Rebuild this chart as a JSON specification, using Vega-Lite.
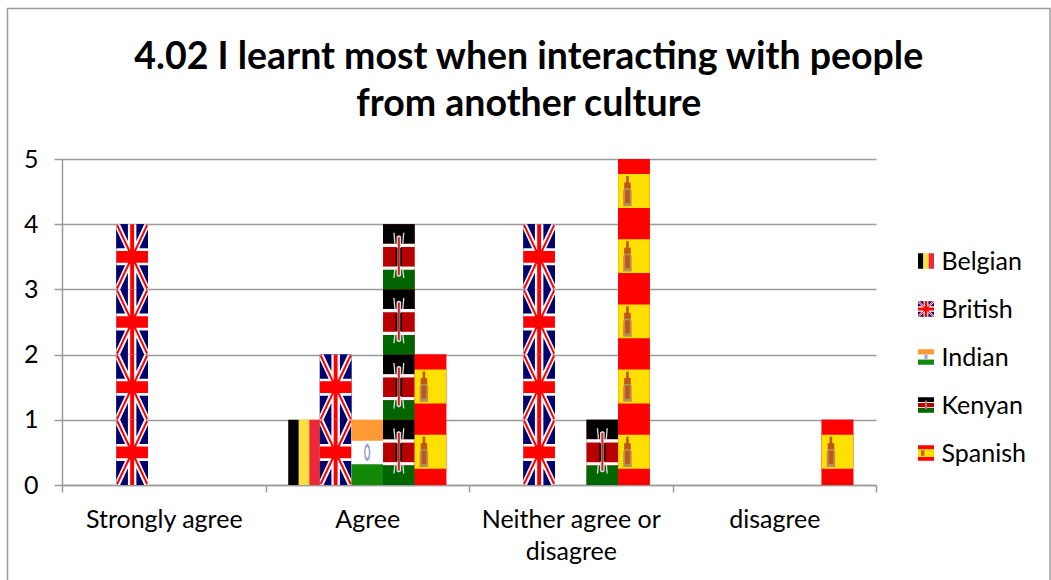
{"$schema":"https://vega.github.io/schema/vega-lite/v6.json","padding":{"left":4,"top":5,"right":0,"bottom":0},"background":"white","bounds":"flush","spacing":42,"config":{"font":"Lato","view":{"stroke":null},"axis":{"labelFont":"Lato","labelFontSize":25,"labelColor":"#000000"}},"title":{"text":["4.02 I learnt most when interacting with people","from another culture"],"font":"Lato","fontWeight":"bold","fontSize":37.5,"lineHeight":47,"color":"#000000","anchor":"middle","offset":-118,"dx":0},"datasets":{"bars":[{"category":"Strongly agree","nationality":"British","count":4,"tiles":[1,2,3,4]},{"category":"Agree","nationality":"Belgian","count":1,"tiles":[1]},{"category":"Agree","nationality":"British","count":2,"tiles":[1,2]},{"category":"Agree","nationality":"Indian","count":1,"tiles":[1]},{"category":"Agree","nationality":"Kenyan","count":4,"tiles":[1,2,3,4]},{"category":"Agree","nationality":"Spanish","count":2,"tiles":[1,2]},{"category":"Neither agree or disagree","nationality":"British","count":4,"tiles":[1,2,3,4]},{"category":"Neither agree or disagree","nationality":"Kenyan","count":1,"tiles":[1]},{"category":"Neither agree or disagree","nationality":"Spanish","count":5,"tiles":[1,2,3,4,5]},{"category":"disagree","nationality":"Spanish","count":1,"tiles":[1]}],"nationalities":[{"nationality":"Belgian"},{"nationality":"British"},{"nationality":"Indian"},{"nationality":"Kenyan"},{"nationality":"Spanish"}]},"hconcat":[{"width":814,"height":326,"data":{"name":"bars"},"encoding":{"x":{"field":"category","type":"nominal","title":null,"scale":{"domain":["Strongly agree","Agree","Neither agree or disagree","disagree"],"paddingInner":0,"paddingOuter":0},"axis":{"labelAngle":0,"tickBand":"extent","tickSize":7,"tickWidth":1.5,"tickColor":"#9a9a9a","domainColor":"#9a9a9a","domainWidth":1.5,"labelPadding":15,"labelLimit":400,"labelLineHeight":32,"labelExpr":"datum.label==='Neither agree or disagree'?['Neither agree or','disagree']:datum.label"}},"xOffset":{"field":"nationality","type":"nominal","scale":{"domain":["Belgian","British","Indian","Kenyan","Spanish"],"paddingInner":0,"paddingOuter":0.72}},"y":{"field":"tiles","type":"quantitative","title":null,"scale":{"domain":[0,5],"nice":false},"axis":{"values":[0,1,2,3,4,5],"format":"d","grid":true,"gridColor":"#9a9a9a","gridWidth":1.5,"tickSize":8,"tickWidth":1.5,"tickColor":"#9a9a9a","domainColor":"#9a9a9a","domainWidth":1.5,"labelPadding":16}}},"layer":[{"data":{"values":[{"category":"Strongly agree","nationality":"Indian","tiles":5}]},"mark":{"type":"point","filled":false,"opacity":1,"size":40000,"stroke":"#9a9a9a","strokeWidth":1.5,"fill":null,"shape":"M-1.5625 4.21V-1.505H8.8625V4.21"}},{"mark":{"type":"bar"},"encoding":{"y":{"field":"count","type":"quantitative","title":null,"scale":{"domain":[0,5],"nice":false},"axis":{"values":[0,1,2,3,4,5],"format":"d","grid":true,"gridColor":"#9a9a9a","gridWidth":1.5,"tickSize":8,"tickWidth":1.5,"tickColor":"#9a9a9a","domainColor":"#9a9a9a","domainWidth":1.5,"labelPadding":16}},"color":{"field":"nationality","type":"nominal","legend":null,"scale":{"domain":["Belgian","British","Indian","Kenyan","Spanish"],"range":["#fae042","#000080","#ffffff","#bb0000","#ff0000"]}}}},
{"transform":[{"filter":"datum.nationality==='Belgian'"},{"flatten":["tiles"]}],"mark":{"type":"point","filled":true,"opacity":1,"size":4251,"color":"#000000","shape":"M-0.485 0H-0.162V2H-0.485Z"}},
{"transform":[{"filter":"datum.nationality==='Belgian'"},{"flatten":["tiles"]}],"mark":{"type":"point","filled":true,"opacity":1,"size":4251,"color":"#fae042","shape":"M-0.162 0H0.162V2H-0.162Z"}},
{"transform":[{"filter":"datum.nationality==='Belgian'"},{"flatten":["tiles"]}],"mark":{"type":"point","filled":true,"opacity":1,"size":4251,"color":"#ed2939","shape":"M0.162 0H0.485V2H0.162Z"}},
{"transform":[{"filter":"datum.nationality==='British'"},{"flatten":["tiles"]}],"mark":{"type":"point","filled":true,"opacity":1,"size":4251,"color":"#00006e","shape":"M-0.485 0H0.485V2H-0.485Z"}},
{"transform":[{"filter":"datum.nationality==='British'"},{"flatten":["tiles"]}],"mark":{"type":"point","filled":true,"opacity":1,"size":4251,"color":"#ffffff","shape":"M-0.485 0L-0.37 0L0.485 1.84L0.485 2L0.37 2L-0.485 0.16ZM0.485 0L0.485 0.16L-0.37 2L-0.485 2L-0.485 1.84L0.37 0ZM-0.485 0.74H0.485V1.26H-0.485ZM-0.13 0H0.13V2H-0.13Z"}},
{"transform":[{"filter":"datum.nationality==='British'"},{"flatten":["tiles"]}],"mark":{"type":"point","filled":true,"opacity":1,"size":4251,"color":"#ff0000","shape":"M-0.485 0.82H0.485V1.18H-0.485ZM-0.06 0H0.06V2H-0.06ZM-0.485 0.05L-0.44 0L0.485 1.95L0.44 2ZM0.44 0L0.485 0.05L-0.44 2L-0.485 1.95Z"}},
{"transform":[{"filter":"datum.nationality==='Indian'"},{"flatten":["tiles"]}],"mark":{"type":"point","filled":true,"opacity":1,"size":4251,"color":"#ffffff","shape":"M-0.485 0H0.485V2H-0.485Z"}},
{"transform":[{"filter":"datum.nationality==='Indian'"},{"flatten":["tiles"]}],"mark":{"type":"point","filled":true,"opacity":1,"size":4251,"color":"#ff9933","shape":"M-0.485 0H0.485V0.64H-0.485Z"}},
{"transform":[{"filter":"datum.nationality==='Indian'"},{"flatten":["tiles"]}],"mark":{"type":"point","filled":true,"opacity":1,"size":4251,"color":"#138808","shape":"M-0.485 1.36H0.485V2H-0.485Z"}},
{"transform":[{"filter":"datum.nationality==='Indian'"},{"flatten":["tiles"]}],"mark":{"type":"point","filled":true,"opacity":1,"size":4251,"color":"#9a9edb","shape":"M0 0.72L0.07 0.8L0.1 1L0.07 1.2L0 1.28L-0.07 1.2L-0.1 1L-0.07 0.8ZM0 0.82L-0.04 0.88L-0.05 1L-0.04 1.12L0 1.18L0.04 1.12L0.05 1L0.04 0.88Z"}},
{"transform":[{"filter":"datum.nationality==='Kenyan'"},{"flatten":["tiles"]}],"mark":{"type":"point","filled":true,"opacity":1,"size":4251,"color":"#000000","shape":"M-0.485 0H0.485V0.6H-0.485Z"}},
{"transform":[{"filter":"datum.nationality==='Kenyan'"},{"flatten":["tiles"]}],"mark":{"type":"point","filled":true,"opacity":1,"size":4251,"color":"#ffffff","shape":"M-0.485 0.6H0.485V1.4H-0.485Z"}},
{"transform":[{"filter":"datum.nationality==='Kenyan'"},{"flatten":["tiles"]}],"mark":{"type":"point","filled":true,"opacity":1,"size":4251,"color":"#b80000","shape":"M-0.485 0.7H0.485V1.3H-0.485Z"}},
{"transform":[{"filter":"datum.nationality==='Kenyan'"},{"flatten":["tiles"]}],"mark":{"type":"point","filled":true,"opacity":1,"size":4251,"color":"#006600","shape":"M-0.485 1.4H0.485V2H-0.485Z"}},
{"transform":[{"filter":"datum.nationality==='Kenyan'"},{"flatten":["tiles"]}],"mark":{"type":"point","filled":true,"opacity":1,"size":4251,"color":"#e0e0e0","shape":"M-0.07 0.38L0 0.34L0.07 0.38V1.58L0 1.62L-0.07 1.58ZM-0.17 0.26H-0.13L-0.1 0.6H-0.14ZM0.13 0.26H0.17L0.14 0.6H0.1ZM-0.14 1.35H-0.1L-0.13 1.65H-0.17ZM0.1 1.35H0.14L0.17 1.65H0.13Z"}},
{"transform":[{"filter":"datum.nationality==='Kenyan'"},{"flatten":["tiles"]}],"mark":{"type":"point","filled":true,"opacity":1,"size":4251,"color":"#d02020","shape":"M-0.03 0.4H0.03V1.56H-0.03Z"}},
{"transform":[{"filter":"datum.nationality==='Kenyan'"},{"flatten":["tiles"]}],"mark":{"type":"point","filled":true,"opacity":1,"size":4251,"color":"#1a0000","shape":"M-0.1 0.72H-0.04V1.28H-0.1ZM0.04 0.72H0.1V1.28H0.04Z"}},
{"transform":[{"filter":"datum.nationality==='Spanish'"},{"flatten":["tiles"]}],"mark":{"type":"point","filled":true,"opacity":1,"size":4251,"color":"#ff0000","shape":"M-0.485 0H0.485V2H-0.485Z"}},
{"transform":[{"filter":"datum.nationality==='Spanish'"},{"flatten":["tiles"]}],"mark":{"type":"point","filled":true,"opacity":1,"size":4251,"color":"#ffe000","shape":"M-0.485 0.46H0.485V1.5H-0.485Z"}},
{"transform":[{"filter":"datum.nationality==='Spanish'"},{"flatten":["tiles"]}],"mark":{"type":"point","filled":true,"opacity":1,"size":4251,"color":"#b3925a","shape":"M-0.25 0.72L-0.14 0.72L-0.07 1L-0.07 1.45H-0.33L-0.33 1Z"}},
{"transform":[{"filter":"datum.nationality==='Spanish'"},{"flatten":["tiles"]}],"mark":{"type":"point","filled":true,"opacity":1,"size":4251,"color":"#c0541f","shape":"M-0.24 0.52H-0.16V0.72H-0.1V0.9H-0.3V0.72H-0.24ZM-0.27 0.95H-0.13V1.35H-0.27Z"}}]},
{"width":16,"height":326,"data":{"name":"nationalities"},"encoding":{"y":{"field":"nationality","type":"nominal","title":null,"sort":null,"scale":{"type":"point","padding":0,"domain":["Belgian","British","Indian","Kenyan","Spanish"],"range":[102,294]},"axis":{"orient":"right","domain":false,"ticks":false,"grid":false,"labelPadding":7,"labelLimit":200}}},"layer":[
{"transform":[{"filter":"datum.nationality==='Belgian'"}],"mark":{"type":"point","filled":true,"opacity":1,"size":256,"color":"#000000","shape":"M-1 -0.97H-0.33V0.97H-1Z"}},
{"transform":[{"filter":"datum.nationality==='Belgian'"}],"mark":{"type":"point","filled":true,"opacity":1,"size":256,"color":"#fae042","shape":"M-0.33 -0.97H0.33V0.97H-0.33Z"}},
{"transform":[{"filter":"datum.nationality==='Belgian'"}],"mark":{"type":"point","filled":true,"opacity":1,"size":256,"color":"#ed2939","shape":"M0.33 -0.97H1V0.97H0.33Z"}},
{"transform":[{"filter":"datum.nationality==='British'"}],"mark":{"type":"point","filled":true,"opacity":1,"size":256,"color":"#00006e","shape":"M-1 -0.97H1V0.97H-1Z"}},
{"transform":[{"filter":"datum.nationality==='British'"}],"mark":{"type":"point","filled":true,"opacity":1,"size":256,"color":"#ffffff","shape":"M-1 -0.97L-0.8 -0.97L1 0.77L1 0.97L0.8 0.97L-1 -0.77ZM1 -0.97L1 -0.77L-0.8 0.97L-1 0.97L-1 0.77L0.8 -0.97ZM-1 -0.33H1V0.33H-1ZM-0.3 -0.97H0.3V0.97H-0.3Z"}},
{"transform":[{"filter":"datum.nationality==='British'"}],"mark":{"type":"point","filled":true,"opacity":1,"size":256,"color":"#ff0000","shape":"M-1 -0.18H1V0.18H-1ZM-0.16 -0.97H0.16V0.97H-0.16ZM-1 -0.9L-0.9 -0.97L1 0.9L0.9 0.97ZM0.9 -0.97L1 -0.9L-0.9 0.97L-1 0.9Z"}},
{"transform":[{"filter":"datum.nationality==='Indian'"}],"mark":{"type":"point","filled":true,"opacity":1,"size":256,"color":"#ffffff","shape":"M-1 -0.97H1V0.97H-1Z"}},
{"transform":[{"filter":"datum.nationality==='Indian'"}],"mark":{"type":"point","filled":true,"opacity":1,"size":256,"color":"#ff9933","shape":"M-1 -0.97H1V-0.32H-1Z"}},
{"transform":[{"filter":"datum.nationality==='Indian'"}],"mark":{"type":"point","filled":true,"opacity":1,"size":256,"color":"#138808","shape":"M-1 0.32H1V0.97H-1Z"}},
{"transform":[{"filter":"datum.nationality==='Indian'"}],"mark":{"type":"point","filled":true,"opacity":1,"size":256,"color":"#a5a5dd","shape":"M-0.2 -0.3H0.2V0.3H-0.2Z"}},
{"transform":[{"filter":"datum.nationality==='Kenyan'"}],"mark":{"type":"point","filled":true,"opacity":1,"size":256,"color":"#000000","shape":"M-1 -0.97H1V-0.35H-1Z"}},
{"transform":[{"filter":"datum.nationality==='Kenyan'"}],"mark":{"type":"point","filled":true,"opacity":1,"size":256,"color":"#ffffff","shape":"M-1 -0.35H1V0.37H-1Z"}},
{"transform":[{"filter":"datum.nationality==='Kenyan'"}],"mark":{"type":"point","filled":true,"opacity":1,"size":256,"color":"#b80000","shape":"M-1 -0.25H1V0.27H-1Z"}},
{"transform":[{"filter":"datum.nationality==='Kenyan'"}],"mark":{"type":"point","filled":true,"opacity":1,"size":256,"color":"#006600","shape":"M-1 0.37H1V0.97H-1Z"}},
{"transform":[{"filter":"datum.nationality==='Kenyan'"}],"mark":{"type":"point","filled":true,"opacity":1,"size":256,"color":"#c9706a","shape":"M-0.14 -0.55H0.14V0.55H-0.14Z"}},
{"transform":[{"filter":"datum.nationality==='Spanish'"}],"mark":{"type":"point","filled":true,"opacity":1,"size":256,"color":"#ff0000","shape":"M-1 -0.97H1V0.97H-1Z"}},
{"transform":[{"filter":"datum.nationality==='Spanish'"}],"mark":{"type":"point","filled":true,"opacity":1,"size":256,"color":"#ffe000","shape":"M-1 -0.48H1V0.5H-1Z"}},
{"transform":[{"filter":"datum.nationality==='Spanish'"}],"mark":{"type":"point","filled":true,"opacity":1,"size":256,"color":"#c0622d","shape":"M-0.62 -0.35H-0.2V0.35H-0.62Z"}}]}]}
